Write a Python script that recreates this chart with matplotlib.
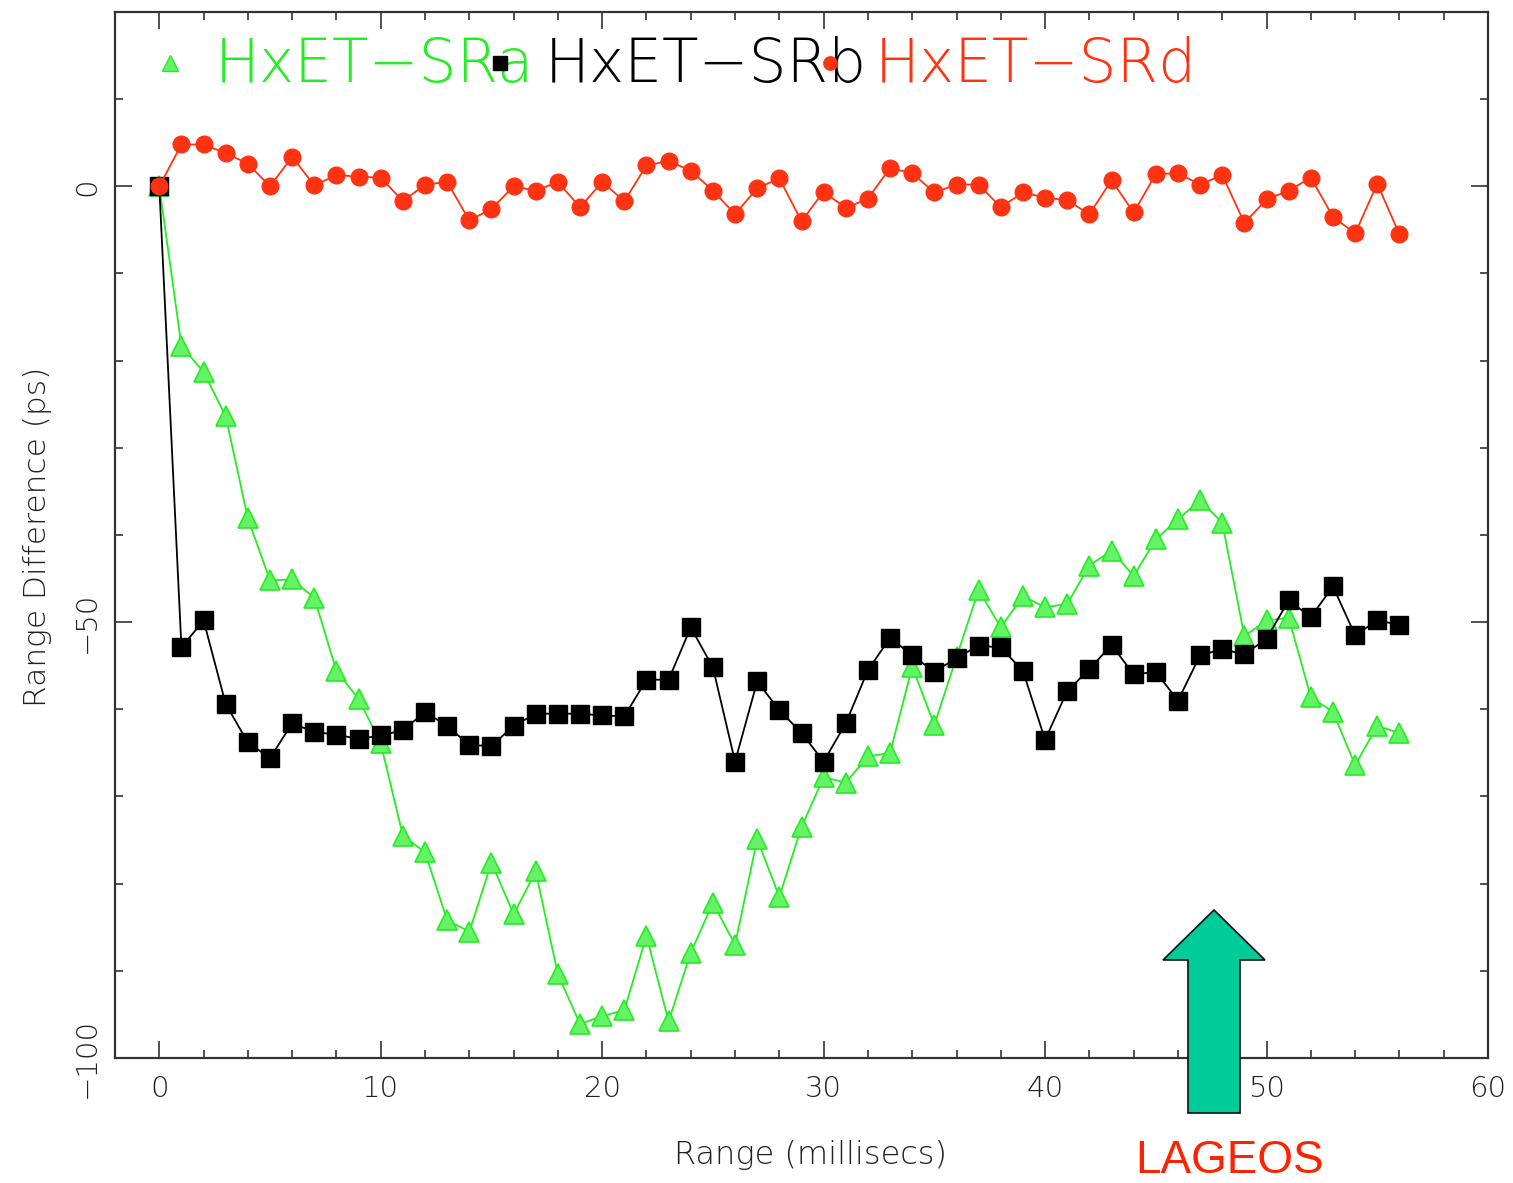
import matplotlib
matplotlib.use("Agg")
import matplotlib.pyplot as plt
from matplotlib.patches import Polygon
from matplotlib.ticker import MultipleLocator
import numpy as np

# ---------------- data ----------------
range_ms = list(range(0, 57))

sra = [0, -18.3, -21.3, -26.4, -38.1, -45.2, -45.1, -47.2, -55.6, -58.8,
       -63.9, -74.5, -76.4, -84.2, -85.5, -77.6, -83.5, -78.6, -90.4, -96.1,
       -95.2, -94.5, -86.0, -95.8, -87.9, -82.2, -87.0, -74.9, -81.5, -73.5,
       -67.8, -68.4, -65.4, -65.0, -55.1, -61.8, -54.0, -46.3, -50.6, -47.0,
       -48.3, -47.9, -43.5, -41.8, -44.7, -40.5, -38.2, -36.0, -38.6, -51.6,
       -49.8, -49.5, -58.6, -60.3, -66.4, -61.9, -62.7]

srb = [0, -52.9, -49.8, -59.4, -63.8, -65.6, -61.6, -62.6, -62.9, -63.4,
       -63.0, -62.4, -60.3, -61.9, -64.1, -64.2, -61.9, -60.5, -60.5, -60.5,
       -60.7, -60.8, -56.6, -56.6, -50.6, -55.2, -66.0, -56.8, -60.1, -62.7,
       -66.0, -61.6, -55.5, -51.8, -53.8, -55.7, -54.1, -52.7, -52.9, -55.6,
       -63.5, -57.9, -55.4, -52.6, -56.0, -55.7, -59.0, -53.8, -53.1, -53.7,
       -51.9, -47.5, -49.4, -45.9, -51.5, -49.8, -50.3]

srd = [0, 4.8, 4.8, 3.8, 2.6, 0.0, 3.4, 0.1, 1.3, 1.1,
       1.0, -1.7, 0.2, 0.5, -3.9, -2.6, 0.0, -0.5, 0.5, -2.4,
       0.5, -1.7, 2.4, 2.9, 1.8, -0.5, -3.2, -0.2, 0.9, -4.0,
       -0.6, -2.5, -1.4, 2.1, 1.5, -0.7, 0.2, 0.2, -2.4, -0.7,
       -1.3, -1.6, -3.2, 0.7, -3.0, 1.4, 1.5, 0.2, 1.3, -4.2,
       -1.5, -0.5, 1.0, -3.5, -5.4, 0.3, -5.5]

series_names = ["HxET\u2212SRa", "HxET\u2212SRb", "HxET\u2212SRd"]
xticks = [0, 10, 20, 30, 40, 50, 60]
yticks = [-100, -50, 0]
ytick_labels = ["\u2212100", "\u221250", "0"]

# ---------------- figure ----------------
W, H = 1513, 1183
fig = plt.figure(figsize=(W / 100, H / 100), dpi=100)
ax = fig.add_axes([115 / W, 1 - 1058 / H, 1373 / W, 1046 / H])

GREEN = "#22ee22"
GREEN_FACE = "#66f266"
BLACK = "#000000"
RED = "#ff3311"
FONT = "DejaVu Sans"

ax.plot(range_ms, sra, color=GREEN, lw=1.3, marker="^", ms=15,
        mfc=GREEN_FACE, mec=GREEN, mew=1.2, zorder=3)
ax.plot(range_ms, srb, color=BLACK, lw=1.3, marker="s", ms=13,
        mfc=BLACK, mec=BLACK, zorder=4)
ax.plot(range_ms, srd, color=RED, lw=1.3, marker="o", ms=12,
        mfc=RED, mec=RED, zorder=5)

ax.set_xlim(-2, 60)
ax.set_ylim(-100, 20)
ax.xaxis.set_major_locator(MultipleLocator(10))
ax.xaxis.set_minor_locator(MultipleLocator(2))
ax.yaxis.set_major_locator(MultipleLocator(50))
ax.yaxis.set_minor_locator(MultipleLocator(10))
ax.set_xticks(xticks)
ax.set_xticklabels([str(t) for t in xticks], fontsize=21, family=FONT,
                   fontweight="light", color="#222222")
ax.set_yticks(yticks)
ax.set_yticklabels(ytick_labels, rotation=90, va="center", fontsize=21,
                   family=FONT, fontweight="light", color="#222222")

ax.tick_params(which="both", direction="in", top=True, right=True,
               color="#333333", width=1.2)
ax.tick_params(which="major", length=12)
ax.tick_params(which="minor", length=6)
ax.tick_params(axis="x", which="major", pad=12)
ax.tick_params(axis="y", which="major", pad=10)
for s in ax.spines.values():
    s.set_color("#333333")
    s.set_linewidth(1.6)

ax.set_xlabel("Range (millisecs)", fontsize=23, family=FONT,
              fontweight="light", color="#222222")
ax.xaxis.set_label_coords((810 - 115) / 1373, (1058 - 1140) / 1046)
ax.set_ylabel("Range Difference (ps)", fontsize=22.5, family=FONT,
              fontweight="light", color="#222222")
ax.yaxis.set_label_coords((52 - 115) / 1373, (1058 - 537) / 1046)

# ---------------- in-plot legend ----------------
def axf(px, py):
    return (px - 115) / 1373, (1058 - py) / 1046

legend_items = [
    (series_names[0], "^", GREEN_FACE, GREEN, 15, GREEN, 170, 215),
    (series_names[1], "s", BLACK, BLACK, 13, BLACK, 500, 545),
    (series_names[2], "o", RED, RED, 12, RED, 830, 875),
]
for name, mk, fc, ec, ms, tc, mx, tx in legend_items:
    x0, y0 = axf(mx, 63)
    ax.plot([x0], [y0], marker=mk, ms=ms * 0.8, mfc=fc, mec=ec,
            transform=ax.transAxes, clip_on=False, zorder=6, ls="none")
    x1, y1 = axf(tx, 82)
    ax.text(x1, y1, name, transform=ax.transAxes, fontsize=43,
            family=FONT, fontweight="light", color=tc, va="baseline",
            ha="left", zorder=6)

# ---------------- LAGEOS arrow annotation ----------------
arrow_px = [(1188, 1113), (1240, 1113), (1240, 960), (1265, 960),
            (1214, 910), (1163, 960), (1188, 960)]
arrow = Polygon([(px / W, 1 - py / H) for px, py in arrow_px], closed=True,
                transform=fig.transFigure, facecolor="#00cc99",
                edgecolor="#111111", lw=1.2, zorder=10, clip_on=False)
fig.patches.append(arrow)
fig.text(1230 / W, 1 - 1173 / H, "LAGEOS", fontsize=33,
         family="Liberation Sans", color="#ff2200", ha="center",
         va="baseline")

fig.savefig("out.png", dpi=100)
